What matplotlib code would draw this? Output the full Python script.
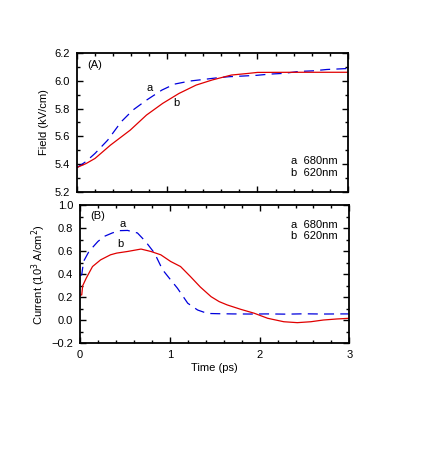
import matplotlib.pyplot as plt
from matplotlib.ticker import MultipleLocator

plt.rcParams['font.family'] = ['Liberation Sans', 'DejaVu Sans']
plt.rcParams['font.size'] = 8

# panel A: field
t_field_a = [0.0, 0.01, 0.1, 0.2, 0.34, 0.49, 0.62, 0.77, 0.94, 1.08, 1.25, 1.41,
             1.55, 1.68, 1.84, 1.99, 2.14, 2.29, 2.46, 2.61, 2.77, 2.94, 3.0]
field_a = [5.38, 5.38, 5.42, 5.478, 5.573, 5.705, 5.789, 5.86, 5.932, 5.975, 5.997, 6.009,
           6.02, 6.028, 6.033, 6.038, 6.047, 6.052, 6.066, 6.07, 6.08, 6.085, 6.087]
t_field_b = [0.0, 0.1, 0.2, 0.37, 0.59, 0.77, 0.95, 1.13, 1.32, 1.5, 1.71, 1.9,
             2.0, 2.5, 3.0]
field_b = [5.377, 5.405, 5.442, 5.537, 5.645, 5.753, 5.837, 5.908, 5.968, 6.005, 6.04, 6.052,
           6.059, 6.06, 6.06]

# panel B: current
t_cur_a = [0.0, 0.02, 0.04, 0.1, 0.2, 0.27, 0.36, 0.44, 0.53, 0.64, 0.73, 0.83,
           0.92, 1.01, 1.085, 1.2, 1.31, 1.42, 1.53, 1.7, 1.9, 2.1, 2.3, 2.5,
           2.7, 2.9, 3.0]
cur_a = [0.39, 0.396, 0.512, 0.599, 0.686, 0.73, 0.76, 0.78, 0.782, 0.76, 0.686, 0.585,
         0.44, 0.352, 0.28, 0.149, 0.09, 0.06, 0.058, 0.056, 0.055, 0.056, 0.054, 0.057,
         0.055, 0.056, 0.056]
t_cur_b = [0.0, 0.02, 0.03, 0.07, 0.14, 0.23, 0.34, 0.41, 0.53, 0.68, 0.79, 0.9,
           1.01, 1.12, 1.23, 1.34, 1.46, 1.55, 1.64, 1.79, 1.94, 2.09, 2.27, 2.42,
           2.57, 2.71, 2.86, 3.0]
cur_b = [0.22, 0.221, 0.3, 0.367, 0.468, 0.526, 0.57, 0.585, 0.599, 0.62, 0.599, 0.57,
         0.512, 0.468, 0.381, 0.29, 0.206, 0.163, 0.134, 0.096, 0.062, 0.018, -0.012, -0.02,
         -0.012, 0.003, 0.012, 0.018]

red = '#e00000'
blue = '#0000dd'


def style_axes(ax):
    ax.tick_params(which='both', direction='in', top=True, right=True, width=1.0)
    ax.tick_params(which='major', length=4, pad=5)
    ax.tick_params(which='minor', length=2)
    for s in ax.spines.values():
        s.set_linewidth(1.3)
    ax.xaxis.set_major_locator(MultipleLocator(1))
    ax.xaxis.set_minor_locator(MultipleLocator(0.2))
    ax.yaxis.set_major_locator(MultipleLocator(0.2))
    ax.yaxis.set_minor_locator(MultipleLocator(0.1))


fig = plt.figure(figsize=(4.23, 4.71), dpi=100)
ax1 = fig.add_axes([0.182, 0.592, 0.640, 0.296])
ax2 = fig.add_axes([0.189, 0.271, 0.637, 0.293])

ax1.plot(t_field_a, field_a, color=blue, lw=0.9, dashes=(8, 5))
ax1.plot(t_field_b, field_b, color=red, lw=0.9)
ax1.set_xlim(0, 3)
ax1.set_ylim(5.2, 6.2)
style_axes(ax1)
ax1.set_xticklabels([])
ax1.set_ylabel('Field (kV/cm)', labelpad=4)
ax1.text(0.11, 6.11, '(A)', va='center')
ax1.text(0.8, 5.944, 'a', ha='center', va='center')
ax1.text(1.1, 5.837, 'b', ha='center', va='center')
ax1.text(2.37, 5.425, 'a  680nm', va='center')
ax1.text(2.37, 5.34, 'b  620nm', va='center')

ax2.plot(t_cur_a, cur_a, color=blue, lw=0.9, dashes=(8, 5))
ax2.plot(t_cur_b, cur_b, color=red, lw=0.9)
ax2.set_xlim(0, 3)
ax2.set_ylim(-0.2, 1.0)
style_axes(ax2)
ax2.set_xlabel('Time (ps)', labelpad=2)
ax2.set_ylabel('Current (10$^3$ A/cm$^2$)', labelpad=2)
ax2.text(0.11, 0.904, '(B)', va='center')
ax2.text(0.474, 0.838, 'a', ha='center', va='center')
ax2.text(0.45, 0.666, 'b', ha='center', va='center')
ax2.text(2.35, 0.826, 'a  680nm', va='center')
ax2.text(2.35, 0.73, 'b  620nm', va='center')

fig.savefig('out.png', dpi=100)
